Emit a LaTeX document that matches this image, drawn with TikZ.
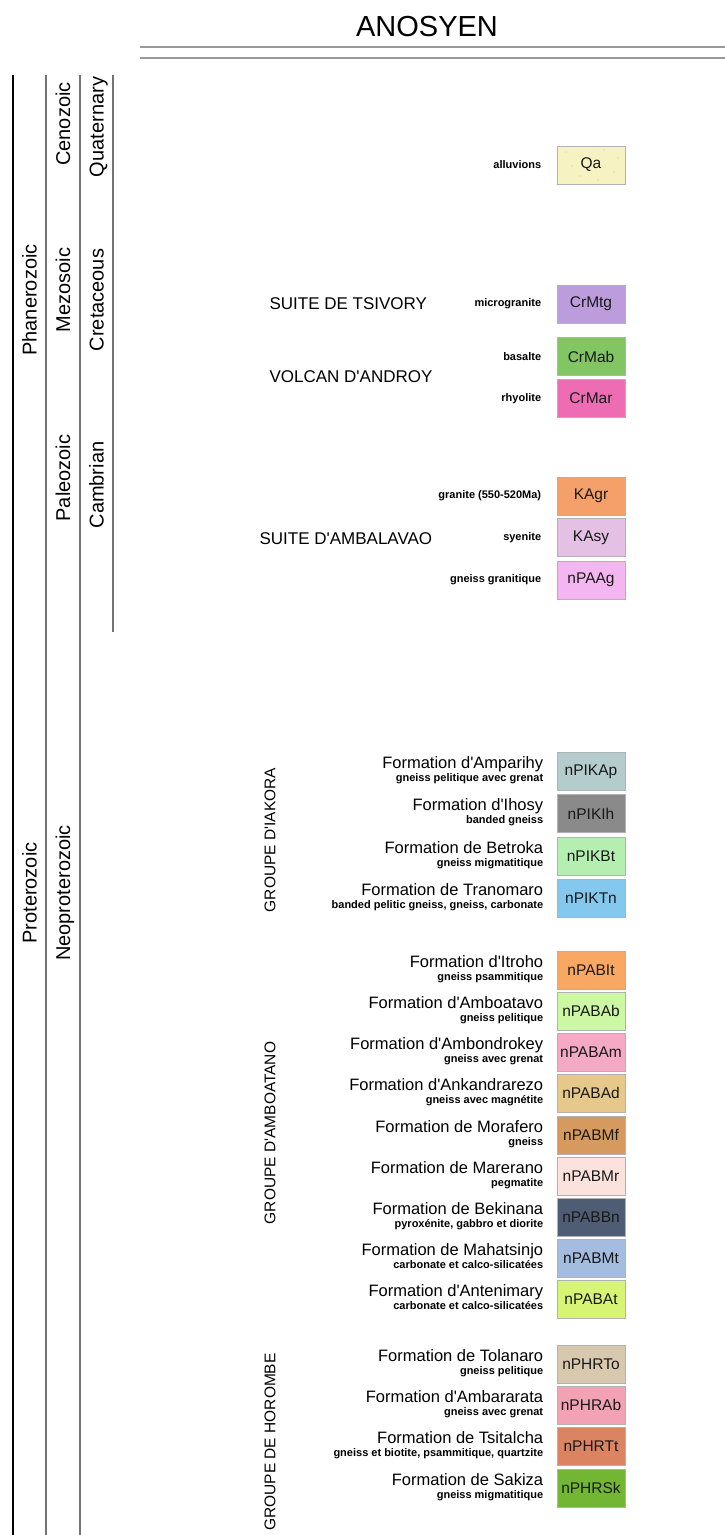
\documentclass[tikz,border=0pt]{standalone}
\usepackage{fontspec}
\setmainfont{Liberation Sans}[Ligatures=TeXOff]
\usepackage{tikz}
\usetikzlibrary{positioning}
\usepackage{xcolor}

\definecolor{cqa}{HTML}{F6F2C2}
\definecolor{ccrmtg}{HTML}{BC9CDC}
\definecolor{ccrmab}{HTML}{82C664}
\definecolor{ccrmar}{HTML}{EE6CB4}
\definecolor{ckagr}{HTML}{F4A06A}
\definecolor{ckasy}{HTML}{E4C0E4}
\definecolor{cnpaag}{HTML}{F4B6F0}
\definecolor{cnpikap}{HTML}{B4CCCC}
\definecolor{cnpikih}{HTML}{8A8A8A}
\definecolor{cnpikbt}{HTML}{B4EEB0}
\definecolor{cnpiktn}{HTML}{84C8EE}
\definecolor{cnpabit}{HTML}{F8A862}
\definecolor{cnpabab}{HTML}{CCF8A4}
\definecolor{cnpabam}{HTML}{F4AAC4}
\definecolor{cnpabad}{HTML}{E6C88A}
\definecolor{cnpabmf}{HTML}{D69A5E}
\definecolor{cnpabmr}{HTML}{FCE2DC}
\definecolor{cnpabbn}{HTML}{4E5C74}
\definecolor{cnpabmt}{HTML}{A4BCE0}
\definecolor{cnpabat}{HTML}{D8F474}
\definecolor{cnphrto}{HTML}{D8C8AE}
\definecolor{cnphrab}{HTML}{F2A2B4}
\definecolor{cnphrtt}{HTML}{DA8462}
\definecolor{cnphrsk}{HTML}{72B634}

\tikzset{
  era/.style={rotate=90, anchor=base, font=\fontsize{20}{24}\selectfont},
  suite/.style={anchor=west, font=\fontsize{17}{20}\selectfont},
  groupe/.style={rotate=90, font=\fontsize{15.5}{18}\selectfont},
  unit/.style={draw=black!30, line width=0.6pt, minimum width=68pt, minimum height=38pt,
    inner sep=0pt, text=black!90, font=\fontsize{15.5}{18}\selectfont},
  lith/.style={anchor=east, font=\bfseries\fontsize{11}{13}\selectfont},
  fmn/.style={anchor=base east, font=\fontsize{16.5}{20}\selectfont},
  fsub/.style={anchor=base east, font=\bfseries\fontsize{11}{13}\selectfont},
}

\begin{document}
\begin{tikzpicture}[x=1pt,y=-1pt]
\useasboundingbox [fill=white] (0,0) rectangle (725,1535);

\node [font=\fontsize{29}{34}\selectfont] (title) at (427,27) {ANOSYEN};
\draw [black!40, line width=2pt] (140,47) -- (725,47) (140,58) -- (725,58);

% time scale columns
\draw [black, line width=1.5pt] (13,75) -- (13,1535);
\draw [black!55, line width=2pt] (46,75) -- (46,1535) (80,75) -- (80,1535) (113,75) -- (113,632);
\node [era] (phan) at (36.7,300) {Phanerozoic};
\node [era] (prot) at (36.7,893) {Proterozoic};
\node [era] (ceno) at (70.2,124) {Cenozoic};
\node [era] (mezo) at (70.2,290) {Mezosoic};
\node [era] (paleo) at (70.2,478) {Paleozoic};
\node [era] (neo) at (70.2,893) {Neoproterozoic};
\node [era] (quat) at (103.7,127) {Quaternary};
\node [era] (cret) at (103.7,300) {Cretaceous};
\node [era] (camb) at (103.7,485) {Cambrian};

% intrusives and cover
\node [unit, fill=cqa] (qa) at (591,165) {Qa};
\foreach \p in {(566,152),(580,176),(604,150),(614,172),(572,166),(598,180),(618,158)}
  \fill [black!25] \p circle [radius=0.7];
\node [lith] (qa-l) at ([xshift=-12pt]qa.west) {alluvions};

\node [unit, fill=ccrmtg] (crmtg) at (591,304) {CrMtg};
\node [lith] (crmtg-l) at ([xshift=-12pt]crmtg.west) {microgranite};
\node [suite] (tsivory) at (266,304) {SUITE DE TSIVORY};

\node [unit, fill=ccrmab] (crmab) at (591,356.5) {CrMab};
\node [lith] (crmab-l) at ([xshift=-12pt]crmab.west) {basalte};
\node [unit, fill=ccrmar] (crmar) at (591,398.5) {CrMar};
\node [lith] (crmar-l) at ([xshift=-12pt]crmar.west) {rhyolite};
\node [suite] (androy) at (266,377) {VOLCAN D'ANDROY};

\node [unit, fill=ckagr] (kagr) at (591,496) {};
\foreach \p in {(565,484),(570,505),(615,486),(618,507),(590,509)}
  \fill [orange!70!red!60] \p circle [radius=2.2];
\node at (kagr) [font=\fontsize{15.5}{18}\selectfont, text=black!90] (kagr-t) {KAgr};
\node [lith] (kagr-l) at ([xshift=-12pt]kagr.west) {granite (550-520Ma)};
\node [unit, fill=ckasy] (kasy) at (591,537.5) {KAsy};
\node [lith] (kasy-l) at ([xshift=-12pt]kasy.west) {syenite};
\node [unit, fill=cnpaag] (npaag) at (591,580) {nPAAg};
\node [lith] (npaag-l) at ([xshift=-12pt]npaag.west) {gneiss granitique};
\node [suite] (ambalavao) at (256,539) {SUITE D'AMBALAVAO};

% groupe d'Iakora
\node [groupe] (iakora) at (270,840) {GROUPE D'IAKORA};
\node [unit, fill=cnpikap] (npikap) at (591,771.5) {nPIKAp};
\node [fmn] (amparihy) at ([xshift=-10pt,yshift=3pt]npikap.west) {Formation d'Amparihy};
\node [fsub] (amparihy-s) at ([xshift=-10pt,yshift=-10pt]npikap.west) {gneiss pelitique avec grenat};
\node [unit, fill=cnpikih] (npikih) at (591,813.5) {nPIKIh};
\node [fmn] (ihosy) at ([xshift=-10pt,yshift=3pt]npikih.west) {Formation d'Ihosy};
\node [fsub] (ihosy-s) at ([xshift=-10pt,yshift=-10pt]npikih.west) {banded gneiss};
\node [unit, fill=cnpikbt] (npikbt) at (591,856) {nPIKBt};
\node [fmn] (betroka) at ([xshift=-10pt,yshift=3pt]npikbt.west) {Formation de Betroka};
\node [fsub] (betroka-s) at ([xshift=-10pt,yshift=-10pt]npikbt.west) {gneiss migmatitique};
\node [unit, fill=cnpiktn] (npiktn) at (591,898.5) {nPIKTn};
\node [fmn] (tranomaro) at ([xshift=-10pt,yshift=3pt]npiktn.west) {Formation de Tranomaro};
\node [fsub] (tranomaro-s) at ([xshift=-10pt,yshift=-10pt]npiktn.west) {banded pelitic gneiss, gneiss, carbonate};

% groupe d'Amboatano
\node [groupe] (amboatano) at (270,1133) {GROUPE D'AMBOATANO};
\node [unit, fill=cnpabit] (npabit) at (591,970) {nPABIt};
\node [fmn] (itroho) at ([xshift=-10pt,yshift=3pt]npabit.west) {Formation d'Itroho};
\node [fsub] (itroho-s) at ([xshift=-10pt,yshift=-10pt]npabit.west) {gneiss psammitique};
\node [unit, fill=cnpabab] (npabab) at (591,1011) {nPABAb};
\node [fmn] (amboatavo) at ([xshift=-10pt,yshift=3pt]npabab.west) {Formation d'Amboatavo};
\node [fsub] (amboatavo-s) at ([xshift=-10pt,yshift=-10pt]npabab.west) {gneiss pelitique};
\node [unit, fill=cnpabam] (npabam) at (591,1052) {nPABAm};
\node [fmn] (ambondrokey) at ([xshift=-10pt,yshift=3pt]npabam.west) {Formation d'Ambondrokey};
\node [fsub] (ambondrokey-s) at ([xshift=-10pt,yshift=-10pt]npabam.west) {gneiss avec grenat};
\node [unit, fill=cnpabad] (npabad) at (591,1093) {nPABAd};
\node [fmn] (ankandrarezo) at ([xshift=-10pt,yshift=3pt]npabad.west) {Formation d'Ankandrarezo};
\node [fsub] (ankandrarezo-s) at ([xshift=-10pt,yshift=-10pt]npabad.west) {gneiss avec magnétite};
\node [unit, fill=cnpabmf] (npabmf) at (591,1135) {nPABMf};
\node [fmn] (morafero) at ([xshift=-10pt,yshift=3pt]npabmf.west) {Formation de Morafero};
\node [fsub] (morafero-s) at ([xshift=-10pt,yshift=-10pt]npabmf.west) {gneiss};
\node [unit, fill=cnpabmr] (npabmr) at (591,1176) {nPABMr};
\node [fmn] (marerano) at ([xshift=-10pt,yshift=3pt]npabmr.west) {Formation de Marerano};
\node [fsub] (marerano-s) at ([xshift=-10pt,yshift=-10pt]npabmr.west) {pegmatite};
\node [unit, fill=cnpabbn] (npabbn) at (591,1217) {nPABBn};
\node [fmn] (bekinana) at ([xshift=-10pt,yshift=3pt]npabbn.west) {Formation de Bekinana};
\node [fsub] (bekinana-s) at ([xshift=-10pt,yshift=-10pt]npabbn.west) {pyroxénite, gabbro et diorite};
\node [unit, fill=cnpabmt] (npabmt) at (591,1258) {nPABMt};
\node [fmn] (mahatsinjo) at ([xshift=-10pt,yshift=3pt]npabmt.west) {Formation de Mahatsinjo};
\node [fsub] (mahatsinjo-s) at ([xshift=-10pt,yshift=-10pt]npabmt.west) {carbonate et calco-silicatées};
\node [unit, fill=cnpabat] (npabat) at (591,1299) {nPABAt};
\node [fmn] (antenimary) at ([xshift=-10pt,yshift=3pt]npabat.west) {Formation d'Antenimary};
\node [fsub] (antenimary-s) at ([xshift=-10pt,yshift=-10pt]npabat.west) {carbonate et calco-silicatées};

% groupe de Horombe
\node [groupe] (horombe) at (270,1442) {GROUPE DE HOROMBE};
\node [unit, fill=cnphrto] (nphrto) at (591,1364) {nPHRTo};
\node [fmn] (tolanaro) at ([xshift=-10pt,yshift=3pt]nphrto.west) {Formation de Tolanaro};
\node [fsub] (tolanaro-s) at ([xshift=-10pt,yshift=-10pt]nphrto.west) {gneiss pelitique};
\node [unit, fill=cnphrab] (nphrab) at (591,1405) {nPHRAb};
\node [fmn] (ambararata) at ([xshift=-10pt,yshift=3pt]nphrab.west) {Formation d'Ambararata};
\node [fsub] (ambararata-s) at ([xshift=-10pt,yshift=-10pt]nphrab.west) {gneiss avec grenat};
\node [unit, fill=cnphrtt] (nphrtt) at (591,1446) {nPHRTt};
\node [fmn] (tsitalcha) at ([xshift=-10pt,yshift=3pt]nphrtt.west) {Formation de Tsitalcha};
\node [fsub] (tsitalcha-s) at ([xshift=-10pt,yshift=-10pt]nphrtt.west) {gneiss et biotite, psammitique, quartzite};
\node [unit, fill=cnphrsk] (nphrsk) at (591,1488) {nPHRSk};
\node [fmn] (sakiza) at ([xshift=-10pt,yshift=3pt]nphrsk.west) {Formation de Sakiza};
\node [fsub] (sakiza-s) at ([xshift=-10pt,yshift=-10pt]nphrsk.west) {gneiss migmatitique};
\end{tikzpicture}
\end{document}
